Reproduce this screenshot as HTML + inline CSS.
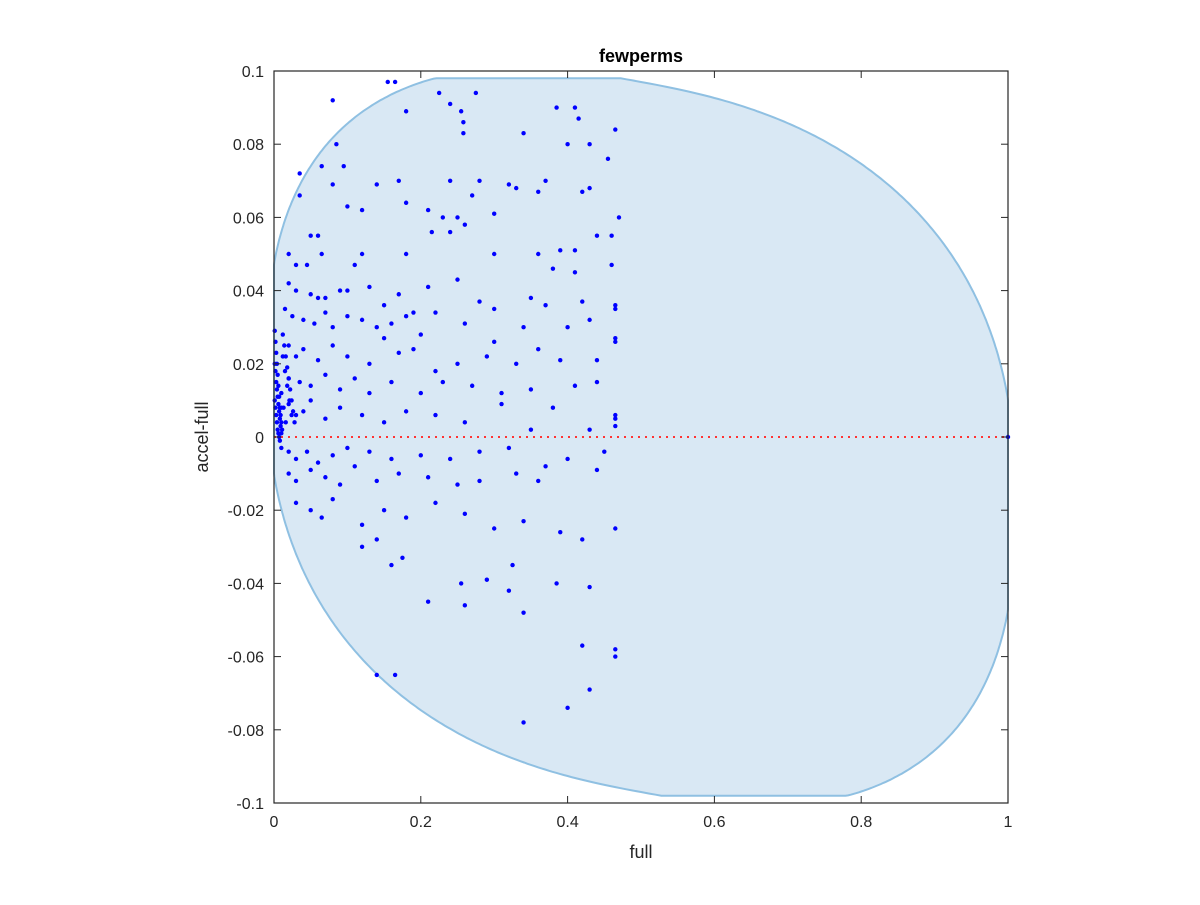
<!DOCTYPE html>
<html><head><meta charset="utf-8"><style>
body{margin:0;background:#fff;}
svg text{font-family:"Liberation Sans",sans-serif;}
</style></head><body>
<svg id="chart" width="1200" height="900">
<rect width="1200" height="900" fill="#fff"/>
<g id="plot"></g>
</svg>
<script>
const xTicks=[0,0.2,0.4,0.6,0.8,1];
const xTickLabels=["0","0.2","0.4","0.6","0.8","1"];
const yTicks=[-0.1,-0.08,-0.06,-0.04,-0.02,0,0.02,0.04,0.06,0.08,0.1];
const yTickLabels=["-0.1","-0.08","-0.06","-0.04","-0.02","0","0.02","0.04","0.06","0.08","0.1"];
const ptsX=[0.08,0.155,0.165,0.18,0.225,0.24,0.255,0.258,0.258,0.275,0.385,0.41,0.415,0.43,0.465,0.455,0.4,0.34,0.085,0.095,0.065,0.035,0.035,0.08,0.14,0.17,0.24,0.28,0.32,0.33,0.37,0.36,0.42,0.43,0.47,0.44,0.46,0.05,0.06,0.1,0.12,0.18,0.21,0.23,0.25,0.27,0.3,0.26,0.24,0.215,0.12,0.065,0.02,0.03,0.045,0.11,0.18,0.3,0.36,0.39,0.41,0.46,0.38,0.41,
0.02,0.03,0.05,0.06,0.07,0.09,0.1,0.13,0.15,0.17,0.19,0.21,0.25,0.28,0.3,0.35,0.37,0.42,0.465,0.465,
0.015,0.025,0.04,0.055,0.07,0.08,0.1,0.12,0.14,0.16,0.18,0.2,0.22,0.26,0.3,0.34,0.4,0.43,0.465,
0.02,0.03,0.04,0.06,0.08,0.1,0.13,0.15,0.17,0.19,0.22,0.25,0.29,0.33,0.36,0.39,0.44,0.465,
0.02,0.035,0.05,0.07,0.09,0.11,0.13,0.16,0.2,0.23,0.27,0.31,0.35,0.41,0.44,0.465,0.465,0.465,
0.01,0.02,0.03,0.04,0.05,0.07,0.09,0.12,0.15,0.18,0.22,0.26,0.31,0.35,0.38,0.43,
0.01,0.02,0.03,0.045,0.06,0.08,0.1,0.13,0.16,0.2,0.24,0.28,0.32,0.37,0.4,0.45,
0.02,0.03,0.05,0.07,0.09,0.11,0.14,0.17,0.21,0.25,0.28,0.33,0.36,0.44,
0.03,0.05,0.065,0.08,0.12,0.15,0.18,0.22,0.26,0.3,0.34,0.39,0.42,0.465,
0.12,0.14,0.16,0.175,0.21,0.255,0.26,0.29,0.32,0.325,0.34,0.385,0.43,0.42,0.465,0.465,0.14,0.165,0.34,0.4,0.43,
0.001,0.002,0.003,0.004,0.005,0.006,0.007,0.008,0.009,0.01,0.011,
0.001,0.002,0.003,0.004,0.005,0.006,0.007,0.008,0.009,0.01,
0.001,0.002,0.003,0.004,0.005,0.006,0.007,0.008,
0.012,0.014,0.016,0.018,0.02,0.022,0.024,0.026,0.028,0.012,0.015,0.018,0.021,0.024,0.01,0.013,0.016,1];
const ptsY=[0.092,0.097,0.097,0.089,0.094,0.091,0.089,0.086,0.083,0.094,0.09,0.09,0.087,0.08,0.084,0.076,0.08,0.083,0.08,0.074,0.074,0.072,0.066,0.069,0.069,0.07,0.07,0.07,0.069,0.068,0.07,0.067,0.067,0.068,0.06,0.055,0.055,0.055,0.055,0.063,0.062,0.064,0.062,0.06,0.06,0.066,0.061,0.058,0.056,0.056,0.05,0.05,0.05,0.047,0.047,0.047,0.05,0.05,0.05,0.051,0.051,0.047,0.046,0.045,
0.042,0.04,0.039,0.038,0.038,0.04,0.04,0.041,0.036,0.039,0.034,0.041,0.043,0.037,0.035,0.038,0.036,0.037,0.036,0.035,
0.035,0.033,0.032,0.031,0.034,0.03,0.033,0.032,0.03,0.031,0.033,0.028,0.034,0.031,0.026,0.03,0.03,0.032,0.026,
0.025,0.022,0.024,0.021,0.025,0.022,0.02,0.027,0.023,0.024,0.018,0.02,0.022,0.02,0.024,0.021,0.021,0.027,
0.016,0.015,0.014,0.017,0.013,0.016,0.012,0.015,0.012,0.015,0.014,0.012,0.013,0.014,0.015,0.006,0.005,0.003,
0.008,0.009,0.006,0.007,0.01,0.005,0.008,0.006,0.004,0.007,0.006,0.004,0.009,0.002,0.008,0.002,
-0.003,-0.004,-0.006,-0.004,-0.007,-0.005,-0.003,-0.004,-0.006,-0.005,-0.006,-0.004,-0.003,-0.008,-0.006,-0.004,
-0.01,-0.012,-0.009,-0.011,-0.013,-0.008,-0.012,-0.01,-0.011,-0.013,-0.012,-0.01,-0.012,-0.009,
-0.018,-0.02,-0.022,-0.017,-0.024,-0.02,-0.022,-0.018,-0.021,-0.025,-0.023,-0.026,-0.028,-0.025,
-0.03,-0.028,-0.035,-0.033,-0.045,-0.04,-0.046,-0.039,-0.042,-0.035,-0.048,-0.04,-0.041,-0.057,-0.058,-0.06,-0.065,-0.065,-0.078,-0.074,-0.069,
0.029,0.026,0.023,0.02,0.017,0.014,0.011,0.008,0.006,0.004,0.002,
0.02,0.018,0.015,0.013,0.011,0.009,0.007,0.005,0.003,0.001,
0.01,0.008,0.006,0.004,0.002,0.001,0.0,-0.001,
0.028,0.025,0.022,0.019,0.016,0.013,0.01,0.007,0.004,0.022,0.018,0.014,0.01,0.006,0.012,0.008,0.004,0.0];
const X0=274,X1=1008,Y0=803,Y1=71;
const sx=v=>X0+(v-0)/(1-0)*(X1-X0);
const sy=v=>Y0-(v+0.1)/0.2*(Y0-Y1);
const NS="http://www.w3.org/2000/svg";
const g=document.getElementById('plot');
function mk(t,a){const e=document.createElementNS(NS,t);for(const k in a)e.setAttribute(k,a[k]);g.appendChild(e);return e;}
// region (superellipse-ish, sheared)
let d="";const a=0.51,b=0.097,c=-0.0189,n=2.5;
const sp=v=>Math.sign(v)*Math.pow(Math.abs(v),2/n);
for(let i=0;i<=720;i++){const t=i*Math.PI/360;const ct=sp(Math.cos(t)),st=sp(Math.sin(t));let x=0.5+a*ct;x=Math.max(0,Math.min(1,x));let y=b*st+c*ct;y=Math.max(-0.098,Math.min(0.098,y));d+=(i?"L":"M")+sx(x).toFixed(1)+","+sy(y).toFixed(1);}
const reg=mk('path',{d:d+"Z",fill:"#d9e8f4",stroke:"#8fc0e2","stroke-width":2});


const zl=mk('line',{x1:sx(0),x2:sx(1),y1:sy(0),y2:sy(0),stroke:"#ff3333","stroke-width":2,"stroke-dasharray":"2,5"});


for(let i=0;i<ptsX.length;i++){const p=mk('circle',{cx:sx(ptsX[i]),cy:sy(ptsY[i]),r:2.2,fill:"#0000ff"});

}
const box=mk('rect',{x:X0,y:Y1,width:X1-X0,height:Y0-Y1,fill:"none",stroke:"#262626","stroke-width":1.2});


xTicks.forEach((v,i)=>{const x=sx(v);
mk('line',{x1:x,x2:x,y1:Y0,y2:Y0-7,stroke:"#262626"});mk('line',{x1:x,x2:x,y1:Y1,y2:Y1+7,stroke:"#262626"});
const t=mk('text',{x:x,y:Y0+24,"text-anchor":"middle","font-size":16,fill:"#262626"});t.textContent=xTickLabels[i];

});
yTicks.forEach((v,i)=>{const y=sy(v);
mk('line',{x1:X0,x2:X0+7,y1:y,y2:y,stroke:"#262626"});mk('line',{x1:X1,x2:X1-7,y1:y,y2:y,stroke:"#262626"});
const t=mk('text',{x:X0-10,y:y+6,"text-anchor":"end","font-size":16,fill:"#262626"});t.textContent=yTickLabels[i];

});
const xt=mk('text',{x:641,y:858,"text-anchor":"middle","font-size":18,fill:"#262626"});xt.textContent="full";


const yt=mk('text',{x:0,y:0,"text-anchor":"middle","font-size":18,fill:"#262626",transform:"translate(208,437) rotate(-90)"});yt.textContent="accel-full";


const tt=mk('text',{x:641,y:62,"text-anchor":"middle","font-size":18,"font-weight":"bold",fill:"#000"});tt.textContent="fewperms";


</script>
</body></html>
